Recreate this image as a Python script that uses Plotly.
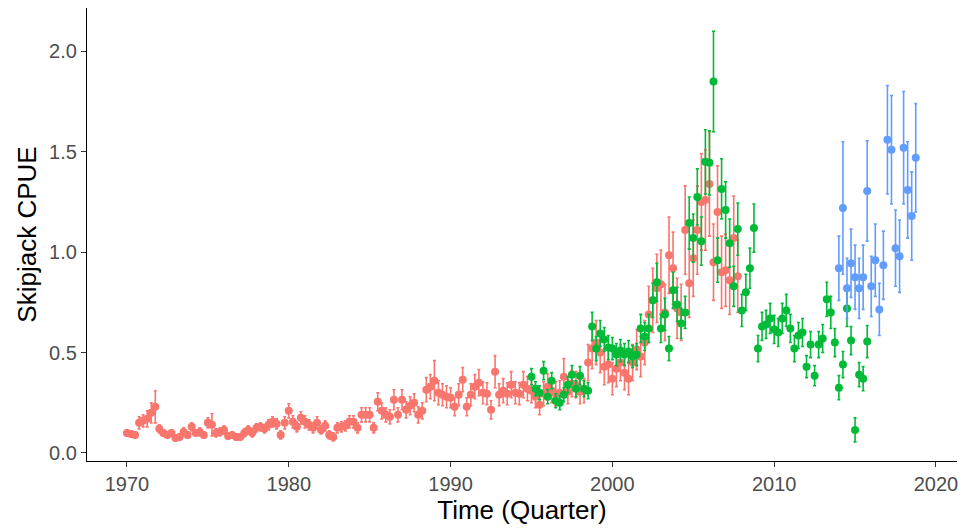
import plotly.graph_objects as go

# ---- data (quarterly CPUE index, three fleets/series) ----
red_start = 1970.0
red_vals = [
    0.10, 0.095, 0.09, 0.15,
    0.16, 0.17, 0.20, 0.23,
    0.12, 0.10, 0.09, 0.10,
    0.075, 0.08, 0.105, 0.09,
    0.13, 0.10, 0.105, 0.09,
    0.15, 0.14, 0.10, 0.105,
    0.115, 0.085, 0.09, 0.08,
    0.08, 0.10, 0.115, 0.10,
    0.125, 0.13, 0.12, 0.14,
    0.155, 0.145, 0.09, 0.15,
    0.21, 0.155, 0.13, 0.175,
    0.155, 0.14, 0.125, 0.15,
    0.115, 0.135, 0.09, 0.08,
    0.125, 0.13, 0.135, 0.155,
    0.155, 0.125, 0.19, 0.19,
    0.19, 0.125, 0.255, 0.21,
    0.19, 0.18, 0.265, 0.19,
    0.265, 0.215, 0.235, 0.25,
    0.19, 0.21, 0.315, 0.33,
    0.36, 0.30, 0.29, 0.28,
    0.275, 0.23, 0.29, 0.365,
    0.23, 0.29, 0.33, 0.35,
    0.30, 0.295, 0.215, 0.405,
    0.29, 0.31, 0.295, 0.34,
    0.30, 0.295, 0.34, 0.32,
    0.31, 0.28, 0.24, 0.295,
    0.33, 0.31, 0.295, 0.30,
    0.38, 0.305, 0.345, 0.34,
    0.305, 0.31, 0.45, 0.52,
    0.55, 0.50, 0.43, 0.44,
    0.37, 0.42, 0.45, 0.40,
    0.37, 0.45, 0.515, 0.48,
    0.55, 0.69, 0.76, 0.82,
    0.84, 0.70, 0.985, 0.92,
    0.72, 0.70, 1.11, 0.845,
    0.97, 1.11, 1.25, 1.26,
    1.34, 0.95, 1.20, 0.90,
    0.91, 0.86, 1.07, 0.88,
]
red_err = [
    .015, .015, .015, .03,
    .03, .04, .05, .08,
    .02, .015, .015, .015,
    .015, .015, .02, .015,
    .02, .015, .02, .015,
    .025, .055, .02, .02,
    .02, .015, .015, .015,
    .015, .02, .02, .02,
    .02, .02, .02, .025,
    .025, .025, .02, .03,
    .035, .03, .025, .03,
    .03, .025, .025, .03,
    .02, .025, .02, .02,
    .025, .025, .025, .03,
    .03, .025, .035, .035,
    .035, .025, .045, .04,
    .035, .035, .05, .035,
    .05, .04, .045, .045,
    .04, .04, .06, .06,
    .10, .06, .055, .055,
    .05, .045, .055, .06,
    .045, .055, .06, .065,
    .055, .055, .045, .08,
    .055, .06, .055, .065,
    .055, .055, .065, .06,
    .06, .055, .05, .06,
    .065, .06, .06, .06,
    .09, .06, .065, .065,
    .06, .06, .09, .10,
    .11, .10, .09, .09,
    .08, .09, .09, .085,
    .08, .09, .10, .10,
    .11, .14, .16, .17,
    .17, .14, .19, .18,
    .15, .14, .22, .17,
    .19, .22, .24, .25,
    .26, .19, .23, .18,
    .18, .17, .21, .18,
]

green_start = 1995.0
green_vals = [
    0.38, 0.32, 0.30, 0.41,
    0.28, 0.36, 0.26, 0.25,
    0.29, 0.34, 0.39, 0.32,
    0.385, 0.32, 0.31, 0.63,
    0.52, 0.595, 0.565, 0.525,
    0.52, 0.49, 0.51, 0.49,
    0.505, 0.48, 0.49, 0.62,
    0.58, 0.62, 0.76, 0.85,
    0.62, 0.69, 0.52, 0.81,
    0.74, 0.645, 0.70, 1.145,
    1.07, 1.275, 1.055, 1.45,
    1.445, 1.85, 0.96, 1.315,
    1.21, 1.045, 0.83, 1.115,
    0.71, 0.80, 0.92, 1.12,
    0.52, 0.63, 0.64, 0.67,
    0.615, 0.60, 0.67, 0.71,
    0.62, 0.52, 0.585, 0.60,
    0.43, 0.54, 0.385, 0.54,
    0.57, 0.765, 0.70, 0.55,
    0.325, 0.44, 0.72, 0.56,
    0.115, 0.39, 0.37, 0.555,
]
green_err = [
    .04, .035, .035, .045,
    .035, .04, .035, .035,
    .035, .04, .045, .04,
    .045, .04, .04, .07,
    .06, .065, .06, .06,
    .055, .055, .055, .055,
    .055, .055, .055, .07,
    .07, .07, .085, .095,
    .07, .08, .06, .09,
    .085, .075, .08, .13,
    .12, .14, .12, .16,
    .16, .25, .11, .15,
    .14, .12, .10, .13,
    .08, .09, .10, .12,
    .065, .07, .07, .075,
    .07, .07, .075, .08,
    .07, .065, .065, .07,
    .055, .065, .05, .065,
    .07, .085, .08, .07,
    .06, .065, .09, .07,
    .06, .06, .06, .08,
]

blue_start = 2014.0
blue_vals = [0.92, 1.22, 0.82, 0.945, 0.875, 0.82, 0.875, 1.305, 0.83, 0.96,
             0.715, 0.935, 1.56, 1.51, 1.02, 0.98, 1.52, 1.31, 1.18, 1.47]
blue_err = [.16, .33, .15, .17, .16, .15, .16, .25, .15, .18,
            .13, .17, .27, .27, .19, .18, .28, .24, .22, .27]

x_ticks = [1970, 1980, 1990, 2000, 2010, 2020]
y_ticks = [0.0, 0.5, 1.0, 1.5, 2.0]


def quarters(start, n):
    return [start + i / 4 for i in range(n)]


series = [
    (red_start, red_vals, red_err, "#F8766D"),
    (green_start, green_vals, green_err, "#00BA38"),
    (blue_start, blue_vals, blue_err, "#619CFF"),
]

fig = go.Figure()
for start, vals, err, col in series:
    fig.add_trace(go.Scatter(
        x=quarters(start, len(vals)), y=vals, mode="markers",
        marker=dict(color=col, size=8),
        error_y=dict(type="data", array=err, visible=True, color=col,
                     thickness=1.6, width=1.5),
        showlegend=False,
    ))

font_family = "Liberation Sans, Arial, sans-serif"
fig.update_layout(
    width=962, height=529,
    margin=dict(l=87, r=5, t=8, b=68),
    plot_bgcolor="white", paper_bgcolor="white",
    font=dict(family=font_family),
    xaxis=dict(
        range=[1967.53, 2021.3], tickvals=x_ticks,
        showgrid=False, zeroline=False,
        showline=True, linecolor="black", linewidth=1.2,
        ticks="outside", ticklen=5, tickcolor="#333333", tickwidth=1.2,
        tickfont=dict(size=20, color="#4d4d4d"),
        automargin=False,
        title=dict(text="Time (Quarter)", font=dict(size=26, color="black"), standoff=4),
    ),
    yaxis=dict(
        range=[-0.04, 2.216], tickvals=y_ticks, tickformat=".1f",
        showgrid=False, zeroline=False,
        showline=True, linecolor="black", linewidth=1.2,
        ticks="outside", ticklen=5, tickcolor="#333333", tickwidth=1.2,
        tickfont=dict(size=20, color="#4d4d4d"),
        automargin=False,
        title=dict(text="Skipjack CPUE", font=dict(size=26, color="black"), standoff=4),
    ),
)

fig.write_html("out.html")
